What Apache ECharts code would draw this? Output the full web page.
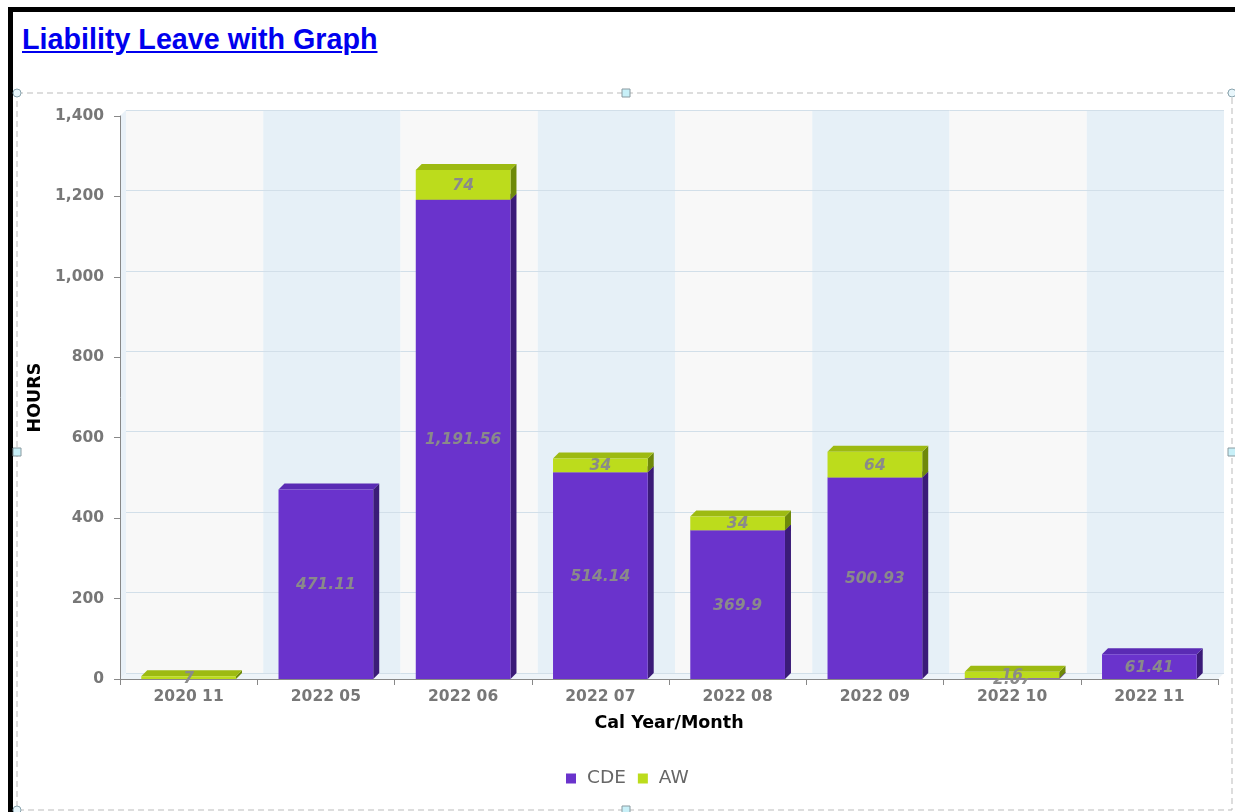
<!DOCTYPE html>
<html>
<head>
<meta charset="utf-8">
<script src="https://cdn.jsdelivr.net/npm/echarts@6/dist/echarts.min.js"></script>
<style>
html,body{margin:0;padding:0;width:1235px;height:812px;overflow:hidden;background:#fff;}
#frame{position:absolute;left:8px;top:7px;width:1400px;height:1000px;border:5px solid #000;box-sizing:border-box;}
#title{position:absolute;left:22px;top:25px;line-height:1;font-family:"Liberation Sans",Arial,sans-serif;font-weight:bold;font-size:28.7px;color:#0000ee;text-decoration:underline;white-space:nowrap;}
#chart{position:absolute;left:0;top:0;width:1235px;height:812px;}
</style>
</head>
<body>
<div id="frame"></div>
<div id="title">Liability Leave with Graph</div>
<div id="chart"></div>
<script>
var categories = ['2020 11','2022 05','2022 06','2022 07','2022 08','2022 09','2022 10','2022 11'];
var cdeValues = [null, 471.11, 1191.56, 514.14, 369.9, 500.93, 2.07, 61.41];
var awValues  = [7, null, 74, 34, 34, 64, 16, null];
var yTicks = {min: 0, max: 1400, interval: 200};

var DEPTH = 6;
function fmt(v){ return v.toLocaleString('en-US', {maximumFractionDigits: 2}); }

function make3D(colors){
  return function(params, api){
    var i = api.value(0), v = api.value(1), base = api.value(2);
    if (v == null || isNaN(v)) return null;
    var pBase = api.coord([i, base]);
    var pTop = api.coord([i, base + v]);
    var w = api.size([1, 0])[0] * 0.69;
    var x0 = pBase[0] - w / 2, x1 = pBase[0] + w / 2;
    var yb = pBase[1], yt = pTop[1], d = DEPTH;
    return {
      type: 'group',
      children: [
        {type:'polygon', shape:{points:[[x1,yt],[x1+d,yt-d],[x1+d,yb-d],[x1,yb]]}, style:{fill:colors.side}},
        {type:'polygon', shape:{points:[[x0,yt],[x0+d,yt-d],[x1+d,yt-d],[x1,yt]]}, style:{fill:colors.top}},
        {type:'rect', shape:{x:x0, y:yt, width:w, height:yb-yt}, style:{fill:colors.front}},
        {type:'text', z2: 10, style:{text: fmt(v), x: pBase[0], y:(yt+yb)/2 + 1, align:'center', verticalAlign:'middle',
          fill:'#8a8a8a', font:'italic bold 15.5px "DejaVu Sans"'}}
      ]
    };
  };
}

var cdeData = categories.map(function(c, i){ return [i, cdeValues[i], 0]; });
var awData = categories.map(function(c, i){ return [i, awValues[i], cdeValues[i] || 0]; });

var chart = echarts.init(document.getElementById('chart'), null, {renderer:'canvas'});
var axisLabelStyle = {color:'#777', fontWeight:'bold', fontSize:15.5, fontFamily:'DejaVu Sans'};
var axisNameStyle = {color:'#000', fontWeight:'bold', fontSize:17.5, fontFamily:'DejaVu Sans'};
chart.setOption({
  backgroundColor: 'transparent',
  animation: false,
  graphic: [
    {type:'polygon', z:-10, shape:{points:[[120,116],[126,110],[126,673],[120,679]]}, style:{fill:'#e9f1f8'}, silent:true},
    {type:'polygon', z:-10, shape:{points:[[120,679],[126,673],[1224,673],[1218,679]]}, style:{fill:'#eef4f9'}, silent:true},
    {type:'rect', z:-5, shape:{x:17, y:93, width:1215, height:717}, style:{fill:'none', stroke:'#bbbbbb', lineWidth:1, lineDash:[6,4]}, silent:true},
    {type:'circle', z:20, shape:{cx:17, cy:93, r:4}, style:{fill:'#e8f6fb', stroke:'#8aa4ae', lineWidth:1}},
    {type:'circle', z:20, shape:{cx:1232, cy:93, r:4}, style:{fill:'#e8f6fb', stroke:'#8aa4ae', lineWidth:1}},
    {type:'circle', z:20, shape:{cx:17, cy:810, r:4}, style:{fill:'#e8f6fb', stroke:'#8aa4ae', lineWidth:1}},
    {type:'rect', z:20, shape:{x:622, y:89, width:8, height:8}, style:{fill:'#c8f0f8', stroke:'#8a9aa0', lineWidth:1}},
    {type:'rect', z:20, shape:{x:13, y:448, width:8, height:8}, style:{fill:'#c8f0f8', stroke:'#8a9aa0', lineWidth:1}},
    {type:'rect', z:20, shape:{x:1228, y:448, width:8, height:8}, style:{fill:'#c8f0f8', stroke:'#8a9aa0', lineWidth:1}},
    {type:'rect', z:20, shape:{x:622, y:806, width:8, height:8}, style:{fill:'#c8f0f8', stroke:'#8a9aa0', lineWidth:1}}
  ],
  legend: {
    data: ['CDE','AW'], left: 561, top: 764, icon: 'rect', itemWidth: 10, itemHeight: 10, itemGap: 12,
    textStyle: {color:'#666', fontSize:18.5, fontFamily:'DejaVu Sans', padding:[0,0,0,6]}
  },
  grid: [
    {left:120, right:17, top:116, bottom:133},
    {left:126, right:11, top:110, bottom:139}
  ],
  xAxis: [
    {type:'category', gridIndex:0, data:categories,
     axisLine:{show:true, lineStyle:{color:'#888'}},
     axisTick:{show:true, length:6, lineStyle:{color:'#888'}},
     axisLabel:Object.assign({margin:10}, axisLabelStyle),
     name:'Cal Year/Month', nameLocation:'middle', nameGap:35,
     nameTextStyle:axisNameStyle,
     splitLine:{show:false}},
    {type:'category', gridIndex:1, data:categories, z:0,
     axisLine:{show:false}, axisTick:{show:false}, axisLabel:{show:false},
     splitArea:{show:true, areaStyle:{color:['#f8f8f8','#e6f0f7']}}}
  ],
  yAxis: [
    {type:'value', gridIndex:0, min:yTicks.min, max:yTicks.max, interval:yTicks.interval,
     axisLine:{show:true, lineStyle:{color:'#888'}},
     axisTick:{show:true, length:6, lineStyle:{color:'#888'}},
     axisLabel:Object.assign({margin:16}, axisLabelStyle),
     splitLine:{show:false},
     name:'HOURS', nameLocation:'middle', nameGap:71, nameRotate:90,
     nameTextStyle:axisNameStyle},
    {type:'value', gridIndex:1, min:yTicks.min, max:yTicks.max, interval:yTicks.interval, z:1,
     axisLine:{show:false}, axisTick:{show:false}, axisLabel:{show:false},
     splitLine:{show:true, lineStyle:{color:'#d2dfe9', width:1}}}
  ],
  series: [
    {name:'CDE', type:'custom', xAxisIndex:0, yAxisIndex:0, z:3,
     itemStyle:{color:'#6a33cc'},
     renderItem: make3D({front:'#6a33cc', top:'#5a2bb4', side:'#3b1b78'}),
     encode:{x:0, y:1}, data:cdeData},
    {name:'AW', type:'custom', xAxisIndex:0, yAxisIndex:0, z:4,
     itemStyle:{color:'#bcdc1c'},
     renderItem: make3D({front:'#bcdc1c', top:'#9dba12', side:'#6e890a'}),
     encode:{x:0, y:1}, data:awData}
  ]
});
</script>
</body>
</html>
